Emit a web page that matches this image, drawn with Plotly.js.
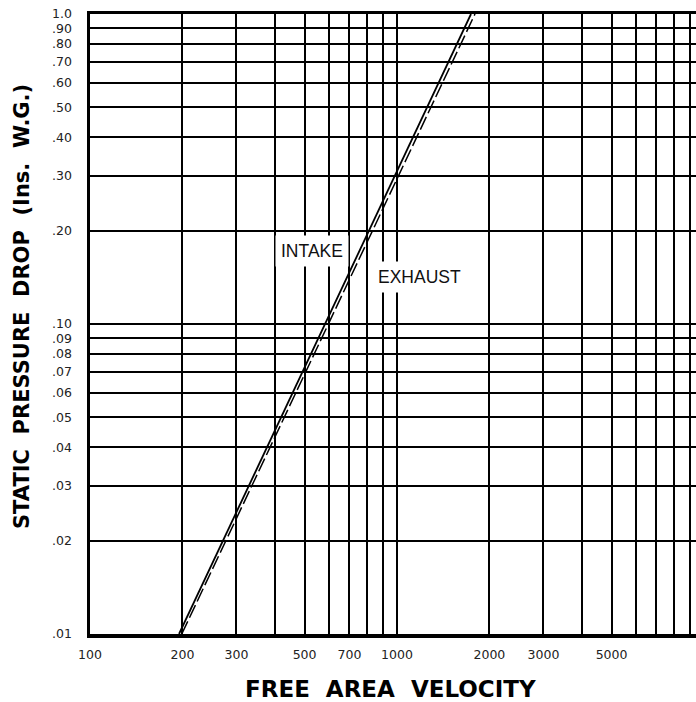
<!DOCTYPE html>
<html>
<head>
<meta charset="utf-8">
<script src="https://cdn.plot.ly/plotly-3.0.1.min.js"></script>
<style>html,body{margin:0;padding:0;background:#fff;}#chart{width:696px;height:702px;}</style>
</head>
<body>
<div id="chart"></div>
<script>
// Series (free area velocity vs static pressure drop), straight lines on log-log
const intakeVelocity = [195, 1742];
const intakePressure = [0.01, 1.0];
const exhaustVelocity = [199, 1795];
const exhaustPressure = [0.01, 1.0];

// Grid / tick values
const xGridValues = [100, 200, 300, 400, 500, 600, 700, 800, 900, 1000, 2000, 3000, 4000, 5000, 6000, 7000, 8000, 9000];
const xTickLabels = ['100', '200', '300', '', '500', '', '700', '', '', '1000', '2000', '3000', '', '5000', '', '', '', ''];
const yGridValues = [0.01, 0.02, 0.03, 0.04, 0.05, 0.06, 0.07, 0.08, 0.09, 0.1, 0.2, 0.3, 0.4, 0.5, 0.6, 0.7, 0.8, 0.9, 1.0];
const yTickLabels = ['.01', '.02', '.03', '.04', '.05', '.06', '.07', '.08', '.09', '.10', '.20', '.30', '.40', '.50', '.60', '.70', '.80', '.90', '1.0'];

const traces = [
  {x: intakeVelocity, y: intakePressure, mode: 'lines', name: 'INTAKE',
   line: {color: '#000', width: 1.8}},
  {x: exhaustVelocity, y: exhaustPressure, mode: 'lines', name: 'EXHAUST',
   line: {color: '#000', width: 1.5, dash: '14px,4px'}}
];

const tickFont = {family: 'DejaVu Sans', size: 12.5, color: '#222'};
const layout = {
  width: 696, height: 702,
  margin: {l: 90, r: 0, t: 14, b: 68},
  paper_bgcolor: '#fff', plot_bgcolor: '#fff',
  showlegend: false,
  xaxis: {
    type: 'log', range: [2, 3.974],
    tickvals: xGridValues, ticktext: xTickLabels,
    tickfont: tickFont, ticks: '', ticklabelstandoff: 6,
    showgrid: true, gridcolor: '#000', gridwidth: 2,
    showline: true, linecolor: '#000', linewidth: 3.5, mirror: true,
    zeroline: false
  },
  yaxis: {
    type: 'log', range: [-2, 0],
    tickvals: yGridValues, ticktext: yTickLabels,
    tickfont: tickFont, ticks: '', ticklabelstandoff: 12,
    showgrid: true, gridcolor: '#000', gridwidth: 2,
    showline: true, linecolor: '#000', linewidth: 3.5, mirror: false,
    zeroline: false
  },
  annotations: [
    {text: 'INTAKE', xref: 'x', yref: 'y', x: 2.723, y: -0.766, showarrow: false,
     font: {family: 'Liberation Sans', size: 17.5, color: '#111'},
     bgcolor: '#fff', borderpad: 5},
    {text: 'EXHAUST', xref: 'x', yref: 'y', x: 3.073, y: -0.848, showarrow: false,
     font: {family: 'Liberation Sans', size: 17.5, color: '#111'},
     bgcolor: '#fff', borderpad: 5},
    {text: 'FREE&nbsp; AREA&nbsp; VELOCITY', xref: 'paper', yref: 'paper', x: 0.5, y: 0,
     yshift: -55, xshift: -3, yanchor: 'middle', showarrow: false,
     font: {family: 'DejaVu Sans', size: 23, color: '#000', weight: 'bold'}},
    {text: 'STATIC&nbsp; PRESSURE&nbsp; DROP&nbsp; (Ins.&nbsp; W.G.)', xref: 'paper', yref: 'paper', x: 0, y: 0.5,
     xshift: -68, yshift: 17, xanchor: 'center', showarrow: false, textangle: -90,
     font: {family: 'DejaVu Sans', size: 21, color: '#000', weight: 'bold'}}
  ]
};

Plotly.newPlot('chart', traces, layout, {displayModeBar: false, staticPlot: true});
</script>
</body>
</html>
